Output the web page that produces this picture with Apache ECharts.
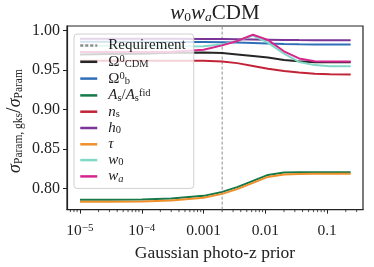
<!DOCTYPE html>
<html><head><meta charset="utf-8">
<script src="https://cdn.jsdelivr.net/npm/echarts@6/dist/echarts.min.js"></script>
<style>html,body{margin:0;padding:0;background:#fff}#c{width:374px;height:267px}</style>
</head><body><div id="c"></div>
<script>
// Gaussian photo-z prior values (x)
const priors = [1e-5, 3e-5, 1e-4, 3e-4, 1e-3, 2e-3, 3.5e-3, 6.3e-3, 0.011, 0.02, 0.035, 0.063, 0.11, 0.24];
const omegaCDM = [0.970, 0.9705, 0.971, 0.972, 0.9726, 0.9718, 0.970, 0.968, 0.966, 0.963, 0.9615, 0.960, 0.960, 0.960];
const omegaB   = [0.986, 0.986, 0.986, 0.9859, 0.9857, 0.9855, 0.9852, 0.9845, 0.9838, 0.9832, 0.9828, 0.9826, 0.9825, 0.9825];
const As       = [0.786, 0.786, 0.7865, 0.7875, 0.791, 0.796, 0.802, 0.810, 0.8175, 0.8205, 0.821, 0.821, 0.821, 0.821];
const ns       = [0.962, 0.962, 0.962, 0.962, 0.962, 0.9612, 0.959, 0.9555, 0.952, 0.949, 0.947, 0.9455, 0.945, 0.9447];
const h0       = [0.990, 0.990, 0.990, 0.9899, 0.9897, 0.9895, 0.9893, 0.989, 0.9887, 0.9884, 0.9882, 0.9881, 0.988, 0.988];
const tau      = [0.7835, 0.7835, 0.784, 0.785, 0.7885, 0.7935, 0.7995, 0.8075, 0.815, 0.818, 0.8188, 0.819, 0.819, 0.819];
const w0       = [0.981, 0.981, 0.9805, 0.980, 0.9805, 0.9825, 0.987, 0.994, 0.985, 0.971, 0.9605, 0.9565, 0.955, 0.955];
const wa       = [0.973, 0.973, 0.973, 0.9735, 0.976, 0.9815, 0.987, 0.995, 0.9885, 0.974, 0.965, 0.9615, 0.961, 0.961];
const requirement = 0.002;
const xTicks = [1e-5, 1e-4, 1e-3, 1e-2, 0.1];
const yTicks = [0.80, 0.85, 0.90, 0.95, 1.00];
const xMin = 6.17e-6, xMax = 0.38, yMin = 0.7736, yMax = 1.006;

const minorTicks = [];
for (let k = -6; k <= 0; k++) for (let m = 2; m <= 9; m++) {
  const v = m * Math.pow(10, k);
  if (v > xMin && v < xMax) minorTicks.push([v, yMin]);
}

const SERIF = '"Liberation Serif", "DejaVu Serif", serif';
const C = '#222';
const rich = {
  g: {width: 6},
  r: {fontFamily: SERIF, fontSize: 15, lineHeight: 16, color: C},
  i: {fontFamily: SERIF, fontSize: 15, lineHeight: 16, fontStyle: 'italic', color: C},
  sub: {fontFamily: SERIF, fontSize: 10.5, lineHeight: 8, verticalAlign: 'bottom', color: C},
  subi: {fontFamily: SERIF, fontSize: 10.5, lineHeight: 8, verticalAlign: 'bottom', fontStyle: 'italic', color: C},
  sup: {fontFamily: SERIF, fontSize: 10.5, lineHeight: 8, verticalAlign: 'top', color: C}
};
const labels = {
  'Requirement': '{g|}{r|Requirement}',
  'OmegaCDM': '{g|}{r|Ω}{sup|0}{sub|CDM}',
  'OmegaB': '{g|}{r|Ω}{sup|0}{sub|b}',
  'As': '{g|}{i|A}{sub|s}{r|/}{i|A}{sub|s}{sup|fid}',
  'ns': '{g|}{i|n}{sub|s}',
  'h0': '{g|}{i|h}{sub|0}',
  'tau': '{g|}{i|τ}',
  'w0': '{g|}{i|w}{sub|0}',
  'wa': '{g|}{i|w}{subi|a}'
};
const defs = [
  ['OmegaCDM', omegaCDM, '#262626'],
  ['OmegaB', omegaB, '#2f6fb8'],
  ['As', As, '#17784a'],
  ['ns', ns, '#c22336'],
  ['h0', h0, '#7a3596'],
  ['tau', tau, '#f0902a'],
  ['w0', w0, '#80d9c8'],
  ['wa', wa, '#d6268e']
];
const series = [{
  name: 'Requirement', type: 'line', symbol: 'none', showSymbol: false,
  data: [[requirement, yMin], [requirement, yMax]],
  lineStyle: {type: [3, 2], color: '#8c8c8c', width: 1},
  itemStyle: {color: '#999'}, z: 1
}];
defs.forEach(d => series.push({
  name: d[0], type: 'line', symbol: 'none', showSymbol: false,
  data: priors.map((p, i) => [p, d[1][i]]),
  lineStyle: {color: d[2], width: 2}, itemStyle: {color: d[2]}, z: 2
}));
series.push({
  type: 'custom', data: minorTicks, clip: false, silent: true, z: 5,
  renderItem: (params, api) => {
    const p = api.coord([api.value(0), api.value(1)]);
    return {type: 'line', shape: {x1: p[0], y1: p[1], x2: p[0], y2: p[1] + 2.5},
      style: {stroke: C, lineWidth: 0.8}};
  }
});

const chart = echarts.init(document.getElementById('c'), null, {renderer: 'canvas'});
chart.setOption({
  animation: false,
  backgroundColor: '#fff',
  title: {
    text: '{i|w}{s|0}{i|w}{si|a}{r|CDM}', left: 210, textAlign: 'center', top: -3,
    textStyle: {fontWeight: 'normal', rich: {
      i: {fontFamily: SERIF, fontSize: 21, fontStyle: 'italic', fontWeight: 'normal', lineHeight: 22, color: C},
      r: {fontFamily: SERIF, fontSize: 21, fontWeight: 'normal', lineHeight: 22, color: C},
      s: {fontFamily: SERIF, fontSize: 13.5, fontWeight: 'normal', lineHeight: 10, verticalAlign: 'bottom', color: C},
      si: {fontFamily: SERIF, fontSize: 13.5, fontWeight: 'normal', lineHeight: 10, verticalAlign: 'bottom', fontStyle: 'italic', color: C}
    }}
  },
  graphic: [{
    type: 'text', x: 15, y: 121, rotation: Math.PI / 2,
    style: {
      text: '{i|σ}{s|Param, gks}{r|/}{i|σ}{s|Param}', align: 'center', verticalAlign: 'middle',
      rich: {
        i: {fontFamily: SERIF, fontSize: 18, fontStyle: 'italic', lineHeight: 20, fill: C},
        r: {fontFamily: SERIF, fontSize: 20, lineHeight: 20, fill: C},
        s: {fontFamily: SERIF, fontSize: 11.5, lineHeight: 10, verticalAlign: 'bottom', fill: C}
      }
    }
  }],
  grid: {left: 67, right: 11, top: 26, bottom: 52, show: true, borderColor: C, borderWidth: 1.2, backgroundColor: 'transparent'},
  legend: {
    orient: 'vertical', left: 74, top: 34, padding: [4, 8, 4, 5], itemGap: 0.8,
    itemWidth: 17, itemHeight: 16, backgroundColor: 'rgba(255,255,255,0.8)',
    borderColor: '#d0d0d0', borderWidth: 1, borderRadius: 3,
    data: ['Requirement', 'OmegaCDM', 'OmegaB', 'As', 'ns', 'h0', 'tau', 'w0', 'wa'],
    formatter: n => labels[n], textStyle: {rich: rich}, selectedMode: false,
    itemStyle: {opacity: 0}, lineStyle: {width: 2.5}
  },
  xAxis: {
    type: 'log', logBase: 10, min: xMin, max: xMax,
    name: 'Gaussian photo-z prior', nameLocation: 'middle', nameGap: 32,
    nameTextStyle: {fontFamily: SERIF, fontSize: 17.5, color: C},
    axisLine: {lineStyle: {color: C, width: 1.2}},
    axisTick: {customValues: xTicks, length: 4, lineStyle: {color: C, width: 1}},
    axisLabel: {customValues: xTicks, margin: 13, fontFamily: SERIF, fontSize: 15.5, color: C,
      formatter: v => {
        const e = Math.round(Math.log10(v));
        if (e <= -4) return '{b|10}{s|−' + (-e) + '}';
        return '{b|' + (e === -3 ? '0.001' : e === -2 ? '0.01' : '0.1') + '}';
      },
      rich: {
        b: {fontFamily: SERIF, fontSize: 15.5, lineHeight: 17, color: C},
        s: {fontFamily: SERIF, fontSize: 11, lineHeight: 9, verticalAlign: 'top', color: C}
      }},
    splitLine: {show: false}
  },
  yAxis: {
    type: 'value', min: yMin, max: yMax,
    axisLine: {show: true, lineStyle: {color: C, width: 1.2}},
    axisTick: {show: true, customValues: yTicks, length: 4, lineStyle: {color: C, width: 1}},
    axisLabel: {customValues: yTicks, margin: 7, fontFamily: SERIF, fontSize: 16, color: C,
      formatter: v => v.toFixed(2)},
    splitLine: {show: false}
  },
  series: series
});
</script></body></html>
